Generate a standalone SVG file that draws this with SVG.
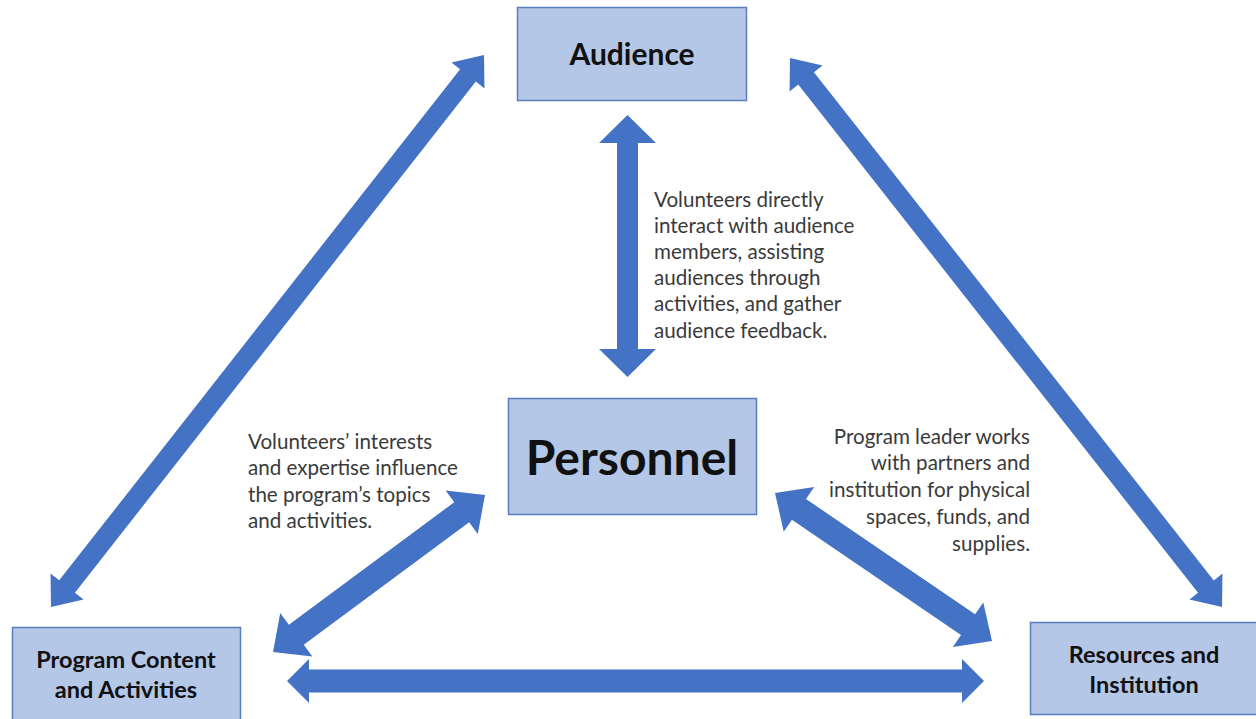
<svg xmlns="http://www.w3.org/2000/svg" width="1256" height="719" viewBox="0 0 1256 719">
  <style>
    .box { fill: #b4c7e7; stroke: #5a7dc0; stroke-width: 1.5; }
    .arrow { fill: #4472c4; }
    .label { font-family: "Lato", "Liberation Sans", sans-serif; font-weight: 700; fill: #111; text-anchor: middle; }
    .note { font-family: "Lato", "Liberation Sans", sans-serif; font-size: 20.6px; fill: #3a3a3a; }
  </style>

  <rect width="1256" height="719" fill="#ffffff"/>

  <!-- double-headed block arrows, drawn along +x and rotated into place -->
  <g id="connectors">
    <!-- Personnel <-> Audience -->
    <polygon class="arrow" transform="translate(627.5 377) rotate(-90)"
      points="0,0 28,-28.5 28,-10.5 234,-10.5 234,-28.5 262,0 234,28.5 234,10.5 28,10.5 28,28.5"/>
    <!-- Program Content <-> Audience -->
    <polygon class="arrow" transform="translate(51 607) rotate(-51.89)"
      points="0,0 26,-21 26,-10 675.6,-10 675.6,-21 701.6,0 675.6,21 675.6,10 26,10 26,21"/>
    <!-- Audience <-> Resources -->
    <polygon class="arrow" transform="translate(790 58) rotate(51.8)"
      points="0,0 26,-21 26,-10 672.6,-10 672.6,-21 698.6,0 672.6,21 672.6,10 26,10 26,21"/>
    <!-- Program Content <-> Personnel -->
    <polygon class="arrow" transform="translate(273 652) rotate(-36.52)"
      points="0,0 29,-27 29,-12.5 234.8,-12.5 234.8,-27 263.8,0 234.8,27 234.8,12.5 29,12.5 29,27"/>
    <!-- Personnel <-> Resources -->
    <polygon class="arrow" transform="translate(775 493) rotate(34.3)"
      points="0,0 29,-27 29,-12.5 233.7,-12.5 233.7,-27 262.7,0 233.7,27 233.7,12.5 29,12.5 29,27"/>
    <!-- Program Content <-> Resources -->
    <polygon class="arrow" transform="translate(287 681)"
      points="0,0 22,-22 22,-11.5 675,-11.5 675,-22 697,0 675,22 675,11.5 22,11.5 22,22"/>
  </g>

  <g id="audience">
    <rect class="box" x="517.5" y="7.5" width="229" height="93"/>
    <text class="label" x="632" y="65" font-size="30">Audience</text>
  </g>

  <g id="personnel">
    <rect class="box" x="508.5" y="398.5" width="248" height="116"/>
    <text class="label" x="632" y="475" font-size="48">Personnel</text>
  </g>

  <g id="program-content">
    <rect class="box" x="12.5" y="627.5" width="228" height="100"/>
    <text class="label" x="126" y="668" font-size="23.5">Program Content</text>
    <text class="label" x="126" y="698" font-size="23.5">and Activities</text>
  </g>

  <g id="resources">
    <rect class="box" x="1030.5" y="622.5" width="227" height="92"/>
    <text class="label" x="1144" y="663" font-size="23.5">Resources and</text>
    <text class="label" x="1144" y="693" font-size="23.5">Institution</text>
  </g>

  <g id="note-audience">
    <text class="note" x="654" y="207">Volunteers directly</text>
    <text class="note" x="654" y="233">interact with audience</text>
    <text class="note" x="654" y="259">members, assisting</text>
    <text class="note" x="654" y="285">audiences through</text>
    <text class="note" x="654" y="311">activities, and gather</text>
    <text class="note" x="654" y="338">audience feedback.</text>
  </g>

  <g id="note-program">
    <text class="note" x="248" y="449">Volunteers’ interests</text>
    <text class="note" x="248" y="475">and expertise influence</text>
    <text class="note" x="248" y="502">the program’s topics</text>
    <text class="note" x="248" y="528">and activities.</text>
  </g>

  <g id="note-resources" text-anchor="end">
    <text class="note" x="1030" y="444">Program leader works</text>
    <text class="note" x="1030" y="470">with partners and</text>
    <text class="note" x="1030" y="497">institution for physical</text>
    <text class="note" x="1030" y="524">spaces, funds, and</text>
    <text class="note" x="1030" y="551">supplies.</text>
  </g>
</svg>
